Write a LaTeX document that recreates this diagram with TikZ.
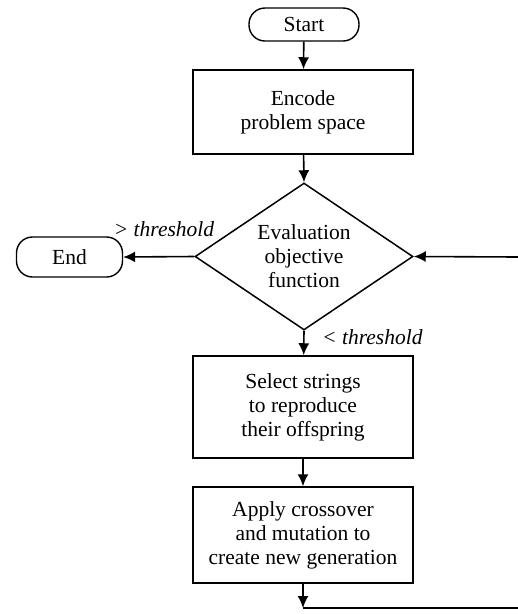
\documentclass[tikz,border=0pt]{standalone}
\usepackage{fontspec}
\setmainfont{Liberation Serif}
\usetikzlibrary{shapes.geometric,arrows.meta}
\begin{document}
\begin{tikzpicture}[x=1pt,y=-1pt,
  every node/.style={font=\fontsize{21.5}{24}\selectfont, align=center},
  box/.style={draw, line width=1.5pt, minimum width=220pt, inner sep=0pt},
  term/.style={draw, line width=1.4pt, rounded corners=16pt, inner sep=0pt},
  dec/.style={draw, line width=1.5pt, diamond, aspect=1.48, inner sep=0pt, minimum width=218pt, minimum height=147pt},
  conn/.style={line width=1.6pt},
  arr/.style={conn, -{Latex[length=12pt,width=11pt]}},
  lbl/.style={font=\fontsize{21.5}{24}\selectfont\itshape, inner sep=0pt}
]
\useasboundingbox (0,0) rectangle (518,614);
\node[term, minimum width=110pt, minimum height=33pt] (start) at (304,24.5) {Start};
\node[box, minimum height=84pt] (encode) at (303,112) {Encode\\problem space};
\node[dec] (eval) at (304,256.5) {Evaluation\\objective\\function};
\node[term, minimum width=106pt, minimum height=40pt] (end) at (69.5,257) {End};
\node[box, minimum height=102pt] (select) at (303,407) {Select strings\\to reproduce\\their offspring};
\node[box, minimum height=96pt] (apply) at (303,535) {Apply crossover\\and mutation to\\create new generation};
\coordinate (loopdown) at (303,608);
\coordinate (loopright) at (518,608);
\coordinate (loopin) at (518,257);

\draw[arr] (start) -- (encode);
\draw[arr] (encode) -- (eval.north);
\draw[arr] (eval.south) -- (select);
\draw[arr] (eval.west) -- (end.east);
\draw[arr] (select) -- (apply);
\draw[arr] (apply) -- (loopdown);
\draw[conn] (loopdown) -- (loopright);
\draw[arr] (loopin) -- (eval.east);

\node[lbl, anchor=west] (lt) at (322,337) {< threshold};
\node[lbl] (gt) at (164,229) {> threshold};
\end{tikzpicture}
\end{document}
